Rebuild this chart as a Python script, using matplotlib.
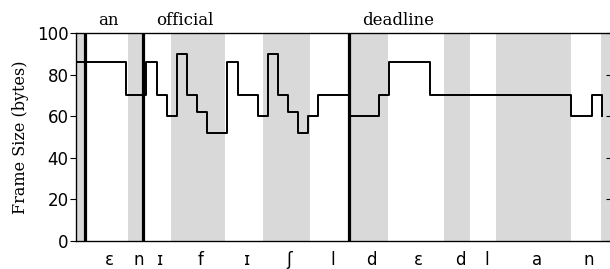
import numpy as np
import matplotlib
matplotlib.use("Agg")
import matplotlib.pyplot as plt

### data (x in frames)
frame_size = [86, 86, 86, 86, 86, 70, 70, 86, 70, 60,
              90, 70, 62, 52, 52, 86, 70, 70, 60, 90,
              70, 62, 52, 60, 70, 70, 70, 60, 60, 60,
              70, 86, 86, 86, 86, 70, 70, 70, 70, 70,
              70, 70, 70, 70, 70, 70, 70, 70, 70, 60,
              60, 70, 60]

# phone segment boundaries (frames) and labels
seg_edges = [0.0, 0.94, 5.18, 6.66, 9.43, 14.76, 18.5, 23.15, 27.0,
             30.85, 36.4, 39.0, 41.6, 49.0, 51.9, 53.0]
seg_labels = ["", "ɛ", "n", "ɪ", "f", "ɪ", "ʃ", "l", "d", "ɛ", "d", "l", "a", "n", ""]

words = ["an", "official", "deadline"]
word_starts = [0.94, 6.66, 27.0]

SERIF = "DejaVu Serif"

fig = plt.figure(figsize=(6.1, 2.69), dpi=100)
ax = fig.add_axes([0.124, 0.104, 1.003 - 0.124, 0.773])

# alternating gray bands, first one shaded
for i in range(len(seg_edges) - 1):
    if i % 2 == 0:
        ax.axvspan(seg_edges[i], seg_edges[i + 1], color="#d9d9d9", lw=0, zorder=0)

for ws in word_starts:
    ax.axvline(ws, color="black", lw=2.3, zorder=3)

x = np.arange(len(frame_size))
ax.step(x, frame_size, where="post", color="black", lw=1.4, zorder=4)

for w, ws in zip(words, word_starts):
    ax.text(ws + 1.3, 1.04, w, transform=ax.get_xaxis_transform(),
            ha="left", va="baseline", fontsize=12, family=SERIF)

ax.set_xlim(0, 53)
ax.set_ylim(0, 100)
ax.set_yticks([0, 20, 40, 60, 80, 100])
ax.tick_params(axis="y", direction="out", length=4, pad=1, labelsize=12)

# labels sit a little right of the segment middle
centers = [(seg_edges[i] + seg_edges[i + 1]) / 2 + 0.3 for i in range(len(seg_edges) - 1)]
ax.set_xticks(centers)
ax.set_xticklabels(seg_labels)
ax.tick_params(axis="x", length=0, pad=7, labelsize=12)

ax.set_ylabel("Frame Size (bytes)", family=SERIF, fontsize=11.5, labelpad=6)

for sp in ax.spines.values():
    sp.set_linewidth(0.9)

# inward ticks on the right side
ax2 = ax.twinx()
ax2.set_ylim(0, 100)
ax2.set_yticks([0, 20, 40, 60, 80, 100])
ax2.tick_params(axis="y", direction="in", length=4, labelright=False)

fig.savefig("out.png", dpi=100)
